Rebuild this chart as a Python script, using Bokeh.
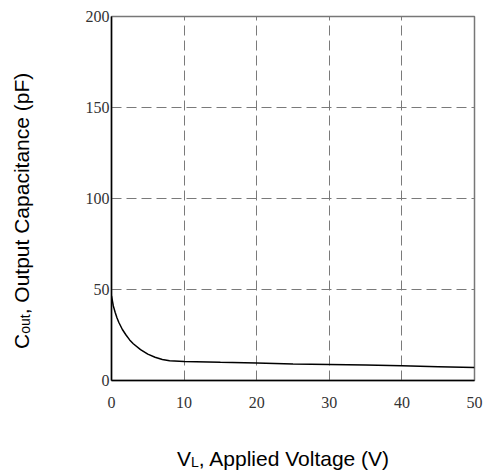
from bokeh.plotting import figure
from bokeh.models import Range1d, FixedTicker, Div
from bokeh.layouts import row, column
from bokeh.embed import file_html
from bokeh.resources import INLINE

# Data
voltage = [0, 0.25, 0.5, 0.75, 1, 1.5, 2, 2.5, 3, 4, 5, 6, 7, 8, 10, 15, 20, 25, 30, 35, 40, 45, 50]
capacitance = [46.5, 41.0, 37.5, 34.5, 32.0, 28.0, 25.0, 22.3, 20.2, 17.0, 14.5, 12.8, 11.5, 10.8,
               10.5, 10.0, 9.6, 9.1, 8.8, 8.5, 8.1, 7.6, 7.1]
x_ticks = [0, 10, 20, 30, 40, 50]
y_ticks = [0, 50, 100, 150, 200]
x_title_main, x_title_sub, x_title_rest = "V", "L", ", Applied Voltage (V)"
y_title_main, y_title_sub, y_title_rest = "C", "out", ",  Output Capacitance (pF)"

p = figure(width=435, height=418, output_backend="svg", toolbar_location=None,
           x_range=Range1d(0, 50), y_range=Range1d(0, 200),
           min_border_left=63, min_border_right=9, min_border_top=16, min_border_bottom=38,
           margin=0)

p.background_fill_color = "white"
p.border_fill_color = "white"
p.outline_line_color = "#777777"
p.outline_line_width = 1.5

for ax, ticks in ((p.xaxis, x_ticks), (p.yaxis, y_ticks)):
    ax.ticker = FixedTicker(ticks=ticks)
    ax.major_tick_line_color = None
    ax.minor_tick_line_color = None
    ax.major_tick_in = 0
    ax.major_tick_out = 0
    ax.minor_tick_in = 0
    ax.minor_tick_out = 0
    ax.axis_line_color = "black"
    ax.axis_line_width = 1.5
    ax.major_label_text_font = "Liberation Serif"
    ax.major_label_text_font_size = "16px"
    ax.major_label_text_color = "#333333"

p.xaxis.major_label_standoff = 16
p.yaxis.major_label_standoff = 2

p.xgrid.ticker = FixedTicker(ticks=x_ticks)
p.ygrid.ticker = FixedTicker(ticks=y_ticks)
for g in (p.xgrid, p.ygrid):
    g.grid_line_color = "#7a7a7a"
    g.grid_line_dash = "10 5"
    g.grid_line_width = 1

p.line(voltage, capacitance, line_color="black", line_width=1.5)

font_css = "font-family:'Liberation Sans'; font-size:21px; line-height:1; color:black; white-space:nowrap;"
sub_css = "font-size:14px; position:relative; top:1px;"

y_html = (
    f'<div style="{font_css} width:max-content; transform-origin:0 0; '
    f'transform:translate(11px, 349px) rotate(-90deg);">'
    f'{y_title_main}<span style="{sub_css}">{y_title_sub}</span>'
    f'{y_title_rest}</div>'
)
x_html = (
    f'<div style="{font_css} width:max-content; padding-left:129px; padding-top:30px;">'
    f'{x_title_main}<span style="{sub_css}">{x_title_sub}</span>'
    f'{x_title_rest}</div>'
)

div_y = Div(text=y_html, width=48, height=418, margin=0)
div_x = Div(text=x_html, width=435, height=55, margin=0)

layout = row(div_y, column(p, div_x, spacing=0, margin=0), spacing=0, margin=0)

open("out.html", "w").write(file_html(layout, INLINE))
